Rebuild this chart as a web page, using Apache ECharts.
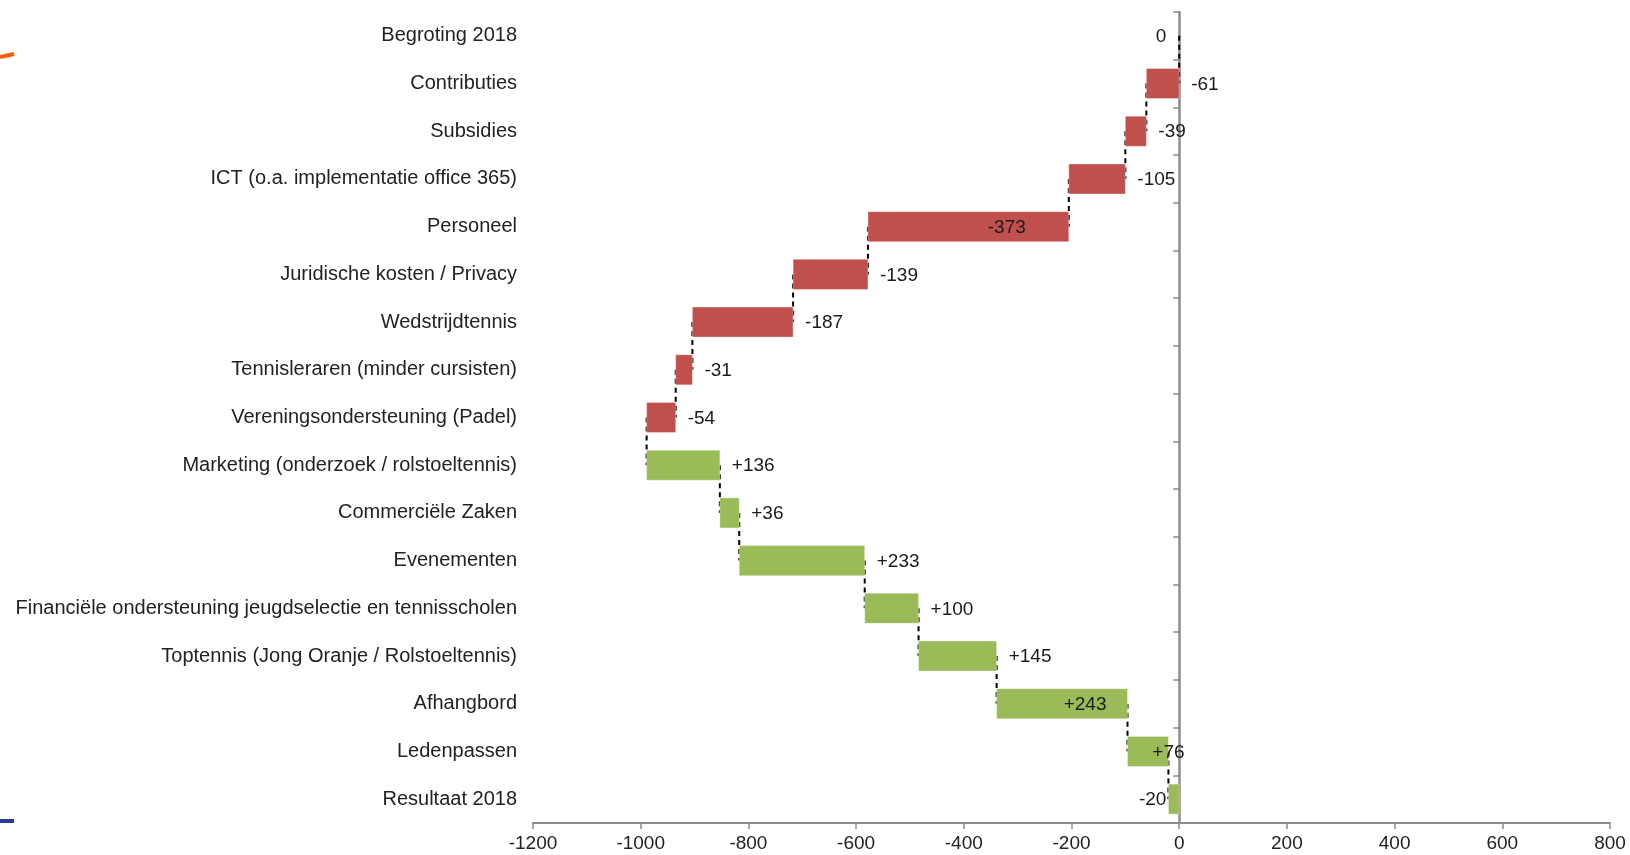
<!DOCTYPE html>
<html>
<head>
<meta charset="utf-8">
<script src="https://cdn.jsdelivr.net/npm/echarts@6/dist/echarts.min.js"></script>
<style>
html,body{margin:0;padding:0;background:#fff;}
#chart{width:1630px;height:855px;}
</style>
</head>
<body>
<div id="chart"></div>
<script>
// ---- data ----
const categories = [
  'Begroting 2018',
  'Contributies',
  'Subsidies',
  'ICT (o.a. implementatie office 365)',
  'Personeel',
  'Juridische kosten / Privacy',
  'Wedstrijdtennis',
  'Tennisleraren (minder cursisten)',
  'Vereningsondersteuning (Padel)',
  'Marketing (onderzoek / rolstoeltennis)',
  'Commerciële Zaken',
  'Evenementen',
  'Financiële ondersteuning jeugdselectie en tennisscholen',
  'Toptennis (Jong Oranje / Rolstoeltennis)',
  'Afhangbord',
  'Ledenpassen',
  'Resultaat 2018'
];
const changes = [0, -61, -39, -105, -373, -139, -187, -31, -54, 136, 36, 233, 100, 145, 243, 76];
const resultValue = -20;
const xTicks = [-1200, -1000, -800, -600, -400, -200, 0, 200, 400, 600, 800];

// ---- derived ----
const RED = '#C0504D', GREEN = '#9BBB59';
const barData = [];
let cum = 0;
changes.forEach((d, i) => {
  const start = cum;
  cum += d;
  barData.push([start, cum, i, d]);
});
barData.push([0, resultValue, changes.length, resultValue]);
const connectorData = [];
for (let i = 0; i < barData.length - 1; i++) {
  connectorData.push([barData[i][1], i, i + 1]);
}
// label placement mode per row (style only)
const labelMode = i => {
  if (i === 0) return {mode: 'before', gap: 13};
  if (i === 4) return {mode: 'inside', gap: 43};
  if (i === 14) return {mode: 'inside', gap: 21};
  if (i === 15) return {mode: 'center', gap: 0};
  if (i === 16) return {mode: 'before', gap: 2};
  return {mode: 'out', gap: 12};
};
const fmt = (v, i) => (i === 0 || i === barData.length - 1) ? String(v) : (v > 0 ? '+' + v : String(v));

const FONT = 'Liberation Sans, Arial, sans-serif';
const chart = echarts.init(document.getElementById('chart'));
chart.setOption({
  animation: false,
  backgroundColor: '#ffffff',
  grid: {left: 533, right: 20, top: 12, bottom: 32, containLabel: false},
  xAxis: {
    type: 'value', min: xTicks[0], max: xTicks[xTicks.length - 1], interval: 200,
    splitLine: {show: false},
    axisLine: {show: true, onZero: false, lineStyle: {color: '#8c8c8c', width: 2}},
    axisTick: {show: true, length: 6, lineStyle: {color: '#8c8c8c', width: 1.5}},
    axisLabel: {color: '#222', fontSize: 19, fontFamily: FONT, margin: 11,
      formatter: v => String(v)}
  },
  yAxis: [{
    type: 'category', inverse: true, data: categories,
    axisLine: {show: false, onZero: false},
    axisTick: {show: false},
    axisLabel: {color: '#222', fontSize: 20, fontFamily: FONT, margin: 16}
  }, {
    type: 'category', inverse: true, data: categories, position: 'left',
    axisLine: {show: true, onZero: true, lineStyle: {color: '#8c8c8c', width: 2.5}},
    axisTick: {show: true, length: 6, lineStyle: {color: '#8c8c8c', width: 1.5}},
    axisLabel: {show: false}
  }],
  graphic: [
    {type: 'polyline', shape: {points: [[0, 57], [14, 54]]}, style: {stroke: '#FF5A00', lineWidth: 4}},
    {type: 'rect', shape: {x: 0, y: 819, width: 14, height: 4}, style: {fill: '#2E3A9E'}}
  ],
  series: [{
    type: 'custom', z: 1, yAxisIndex: 0,
    encode: {x: 0, y: [1, 2]},
    data: connectorData,
    renderItem: (params, api) => {
      const a = api.coord([api.value(0), api.value(1)]);
      const b = api.coord([api.value(0), api.value(2)]);
      return {type: 'line', shape: {x1: a[0], y1: a[1], x2: b[0], y2: b[1]},
        style: {stroke: '#000', lineWidth: 2, lineDash: [5, 4]}};
    }
  }, {
    type: 'custom', z: 2, yAxisIndex: 0,
    encode: {x: [0, 1], y: 2},
    data: barData,
    renderItem: (params, api) => {
      const i = params.dataIndex;
      const s = api.coord([api.value(0), api.value(2)]);
      const e = api.coord([api.value(1), api.value(2)]);
      const h = api.size([0, 1])[1] * 0.63;
      const x0 = Math.min(s[0], e[0]), x1 = Math.max(s[0], e[0]);
      const cy = s[1];
      const d = api.value(3);
      const isTotal = i === barData.length - 1;
      const color = (isTotal || d > 0) ? GREEN : RED;
      const lm = labelMode(i);
      let tx, align;
      if (lm.mode === 'out') { tx = x1 + lm.gap; align = 'left'; }
      else if (lm.mode === 'inside') { tx = x1 - lm.gap; align = 'right'; }
      else if (lm.mode === 'center') { tx = x1; align = 'center'; }
      else { tx = x0 - lm.gap; align = 'right'; }
      const children = [];
      if (x1 - x0 > 0.1) {
        children.push({type: 'rect', shape: {x: x0, y: cy - h / 2, width: x1 - x0, height: h},
          style: {fill: color, stroke: 'rgba(255,255,255,0.35)', lineWidth: 1}});
      }
      children.push({type: 'text', z2: 10, style: {text: fmt(d, i), x: tx, y: cy + 1,
        textAlign: align, textVerticalAlign: 'middle', align: align, verticalAlign: 'middle',
        fontSize: 19, fontFamily: FONT, fill: '#1a1a1a'}});
      return {type: 'group', children};
    }
  }]
});
</script>
</body>
</html>
